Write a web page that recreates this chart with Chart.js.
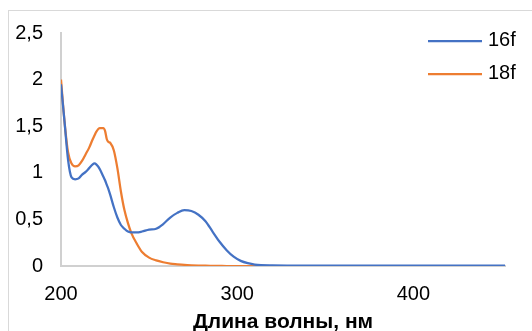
<!DOCTYPE html>
<html>
<head>
<meta charset="utf-8">
<script src="https://cdn.jsdelivr.net/npm/chart.js@4"></script>
<style>
  html, body { margin: 0; padding: 0; background: #fff; }
  #wrap { position: relative; width: 532px; height: 331px; }
  #frame { position: absolute; left: 8px; top: 10px; width: 540px; height: 340px; border: 1px solid #d9d9d9; box-sizing: border-box; }
  canvas { position: absolute; left: 0; top: 0; }
</style>
</head>
<body>
<div id="wrap">
  <div id="frame"></div>
  <canvas id="c" width="532" height="331"></canvas>
</div>
<script>
const wavelengths = [200,202,204,206,208,210,212,214,216,218,219,220,222,224,225,226,227,228,230,232,234,236,238,240,243,246,250,254,258,262,266,270,274,278,282,286,290,294,298,302,306,310,320,340,360,380,400,420,440,452];
const series16f = [1.95,1.55,1.14,0.95,0.93,0.94,0.98,1.01,1.05,1.09,1.10,1.09,1.04,0.96,0.92,0.87,0.82,0.76,0.63,0.52,0.44,0.40,0.37,0.36,0.36,0.37,0.39,0.40,0.45,0.52,0.57,0.60,0.59,0.55,0.48,0.37,0.26,0.17,0.10,0.055,0.03,0.015,0.007,0.005,0.005,0.004,0.004,0.003,0.003,0.003];
const series18f = [2.0,1.55,1.22,1.10,1.07,1.08,1.13,1.20,1.27,1.36,1.40,1.44,1.48,1.48,1.45,1.36,1.33,1.32,1.24,1.05,0.80,0.60,0.46,0.35,0.24,0.15,0.09,0.06,0.04,0.025,0.018,0.012,0.008,0.005,0.003,0.002,0.001,0,0,0,0,0,0,0,0,0,0,0,0,0];
const seriesLabels = ['16f','18f'];
const seriesColors = ['#4472C4','#ED7D31'];
const xTickLabels = ['200','300','400'];
const yTickLabels = ['0','0,5','1','1,5','2','2,5'];
const xTitle = 'Длина волны, нм';

const FONT = '"Liberation Sans", Arial, sans-serif';

const legendPlugin = {
  id: 'customLegend',
  afterDraw(chart) {
    const ctx = chart.ctx;
    const ca = chart.chartArea;
    ctx.save();
    chart.data.datasets.forEach((ds, i) => {
      const y = 41 + i * 33;
      ctx.strokeStyle = ds.borderColor;
      ctx.lineWidth = 2.25;
      ctx.beginPath();
      ctx.moveTo(ca.right - 77, y);
      ctx.lineTo(ca.right - 23, y);
      ctx.stroke();
      ctx.fillStyle = '#000';
      ctx.font = '20px ' + FONT;
      ctx.textBaseline = 'middle';
      ctx.textAlign = 'left';
      ctx.fillText(ds.label, ca.right - 17, y - 1);
    });
    ctx.restore();
  }
};

const mk = (vals) => wavelengths.map((w, i) => ({ x: w, y: vals[i] }));

new Chart(document.getElementById('c'), {
  type: 'line',
  data: {
    datasets: [
      { label: seriesLabels[0], data: mk(series16f), borderColor: seriesColors[0], backgroundColor: seriesColors[0], borderWidth: 2.25, pointRadius: 0, cubicInterpolationMode: 'monotone', fill: false },
      { label: seriesLabels[1], data: mk(series18f), borderColor: seriesColors[1], backgroundColor: seriesColors[1], borderWidth: 2.25, pointRadius: 0, cubicInterpolationMode: 'monotone', fill: false }
    ]
  },
  options: {
    responsive: false,
    animation: false,
    events: [],
    layout: { padding: { left: 0, top: 33, right: 27, bottom: 0 } },
    plugins: { legend: { display: false }, tooltip: { enabled: false } },
    scales: {
      x: {
        type: 'linear',
        min: 200, max: 452,
        grid: { display: false, drawTicks: false },
        border: { display: true, color: '#d0d0d0', width: 2 },
        afterBuildTicks: (s) => { s.ticks = xTickLabels.map(v => ({ value: Number(v) })); },
        ticks: { color: '#000', font: { family: FONT, size: 20 }, padding: 16, maxRotation: 0, autoSkip: false,
          callback: (v, i) => xTickLabels[i] },
        title: { display: true, text: xTitle, color: '#000', font: { family: FONT, size: 21, weight: 'bold', lineHeight: 0.85 }, padding: 0 },
        afterFit: (s) => { s.height = 65; }
      },
      y: {
        type: 'linear',
        min: 0, max: 2.5,
        grid: { display: false, drawTicks: false },
        border: { display: true, color: '#d0d0d0', width: 2 },
        afterBuildTicks: (s) => { s.ticks = yTickLabels.map((v, i) => ({ value: i * 0.5 })); },
        ticks: { color: '#000', font: { family: FONT, size: 20 }, padding: 18, autoSkip: false,
          callback: (v, i) => yTickLabels[i] },
        afterFit: (s) => { s.width = 61; }
      }
    }
  },
  plugins: [legendPlugin]
});
</script>
</body>
</html>
